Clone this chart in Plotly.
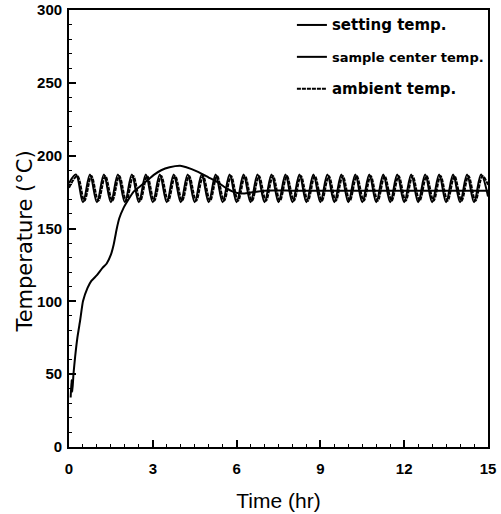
import plotly.graph_objects as go

# Setting temperature (hr, °C)
set_t = [0.0,
         0.25, 0.5, 0.75, 1.0, 1.25, 1.5, 1.75, 2.0, 2.25, 2.5, 2.75, 3.0,
         3.25, 3.5, 3.75, 4.0, 4.25, 4.5, 4.75, 5.0, 5.25, 5.5, 5.75, 6.0,
         6.25, 6.5, 6.75, 7.0, 7.25, 7.5, 7.75, 8.0, 8.25, 8.5, 8.75, 9.0,
         9.25, 9.5, 9.75, 10.0, 10.25, 10.5, 10.75, 11.0, 11.25, 11.5, 11.75, 12.0,
         12.25, 12.5, 12.75, 13.0, 13.25, 13.5, 13.75, 14.0, 14.25, 14.5, 14.75, 15.0]
set_v = [181,
         187, 168, 187, 168, 187, 168, 187, 168, 187, 168, 187, 168,
         187, 168, 187, 168, 187, 168, 187, 168, 187, 168, 187, 168,
         187, 168, 187, 168, 187, 168, 187, 168, 187, 168, 187, 168,
         187, 168, 187, 168, 187, 168, 187, 168, 187, 168, 187, 168,
         187, 168, 187, 168, 187, 168, 187, 168, 187, 168, 187, 172]

# Ambient temperature
amb_t = [0.0,
         0.3, 0.55, 0.8, 1.05, 1.3, 1.55, 1.8, 2.05, 2.3, 2.55, 2.8, 3.05,
         3.3, 3.55, 3.8, 4.05, 4.3, 4.55, 4.8, 5.05, 5.3, 5.55, 5.8, 6.05,
         6.3, 6.55, 6.8, 7.05, 7.3, 7.55, 7.8, 8.05, 8.3, 8.55, 8.8, 9.05,
         9.3, 9.55, 9.8, 10.05, 10.3, 10.55, 10.8, 11.05, 11.3, 11.55, 11.8, 12.05,
         12.3, 12.55, 12.8, 13.05, 13.3, 13.55, 13.8, 14.05, 14.3, 14.55, 14.8,
         15.0]
amb_v = [178,
         186, 169, 186, 169, 186, 169, 186, 169, 186, 169, 186, 169,
         186, 169, 186, 169, 186, 169, 186, 169, 186, 169, 186, 169,
         186, 169, 186, 169, 186, 169, 186, 169, 186, 169, 186, 169,
         186, 169, 186, 169, 186, 169, 186, 169, 186, 169, 186, 169,
         186, 169, 186, 169, 186, 169, 186, 169, 186, 169, 186,
         180]

# Sample center temperature
samp_t = [0.06, 0.09, 0.12, 0.16, 0.22, 0.3, 0.4, 0.5, 0.66, 0.8, 1.0, 1.2, 1.35,
          1.5, 1.6, 1.7, 1.8, 1.95, 2.1, 2.3, 2.55, 2.8, 3.05, 3.3, 3.6, 3.98,
          4.2, 4.6, 5.0, 5.3, 5.6, 5.9, 6.25, 6.6, 7.0, 8.0, 9.0, 10.5, 12.0,
          13.5, 15.0]
samp_v = [34, 46, 38, 50, 62, 75, 87, 100, 109, 114, 118, 123, 126,
          132, 139, 149, 157, 164, 169, 175, 179, 183, 187, 190, 192, 193,
          192, 189, 185, 182, 178, 175, 174, 175, 176, 176, 176, 176, 176,
          176, 176]

x_ticks = [0, 3, 6, 9, 12, 15]
y_ticks = [0, 50, 100, 150, 200, 250, 300]

fig = go.Figure()
fig.add_trace(go.Scatter(x=set_t, y=set_v, mode="lines",
                         name="<span style='font-size:15px'>setting temp.</span>",
                         line=dict(color="black", width=2, shape="spline", smoothing=1.0),
                         legendgroup="a"))
fig.add_trace(go.Scatter(x=samp_t, y=samp_v, mode="lines", name="sample center temp.",
                         line=dict(color="black", width=2, shape="spline", smoothing=0.5),
                         legendgroup="b"))
fig.add_trace(go.Scatter(x=amb_t, y=amb_v, mode="lines",
                         name="<span style='font-size:15px'>ambient temp.</span>",
                         line=dict(color="black", width=2, shape="spline", smoothing=1.0,
                                   dash="4px,1px"),
                         legendgroup="c"))

axis_font = dict(family="Liberation Sans, Arial, sans-serif", size=15, color="black", weight="bold")
fig.update_layout(
    width=501, height=514,
    margin=dict(l=69, r=13, t=10, b=67),
    paper_bgcolor="white", plot_bgcolor="white",
    showlegend=True,
    legend=dict(x=0.532, y=1.0, xanchor="left", yanchor="top",
                bgcolor="rgba(0,0,0,0)", itemwidth=30, tracegroupgap=12,
                font=dict(family="DejaVu Sans, sans-serif", size=13,
                          color="black", weight="bold")),
    xaxis=dict(range=[0, 15], tickvals=x_ticks, ticktext=[str(v) for v in x_ticks],
               ticks="inside", ticklen=7, tickwidth=1.5, tickcolor="black",
               minor=dict(dtick=0.5, ticks="inside", ticklen=3, tickcolor="black", tickwidth=1),
               showline=True, linecolor="black", linewidth=1.8, mirror=True,
               showgrid=False, zeroline=False, tickfont=axis_font, automargin=False,
               ticklabelstandoff=7,
               title=dict(text="Time (hr)", standoff=17,
                          font=dict(family="Liberation Sans Narrow, Liberation Sans, Arial", size=21, color="black"))),
    yaxis=dict(range=[0, 300], tickvals=y_ticks, ticktext=[str(v) for v in y_ticks],
               ticks="inside", ticklen=7, tickwidth=1.5, tickcolor="black",
               minor=dict(dtick=10, ticks="inside", ticklen=3, tickcolor="black", tickwidth=1),
               showline=True, linecolor="black", linewidth=1.8, mirror=True,
               showgrid=False, zeroline=False, tickfont=axis_font, automargin=False,
               ticklabelstandoff=2),
    annotations=[dict(text="Temperature (°C)", textangle=-90, showarrow=False,
                      xref="paper", yref="paper", x=-0.105, y=0.47,
                      xanchor="center", yanchor="middle",
                      font=dict(family="DejaVu Sans, sans-serif", size=21, color="black"))],
)

fig.write_html("out.html", config={"displayModeBar": False},
               post_script="document.body.style.margin='0';")
